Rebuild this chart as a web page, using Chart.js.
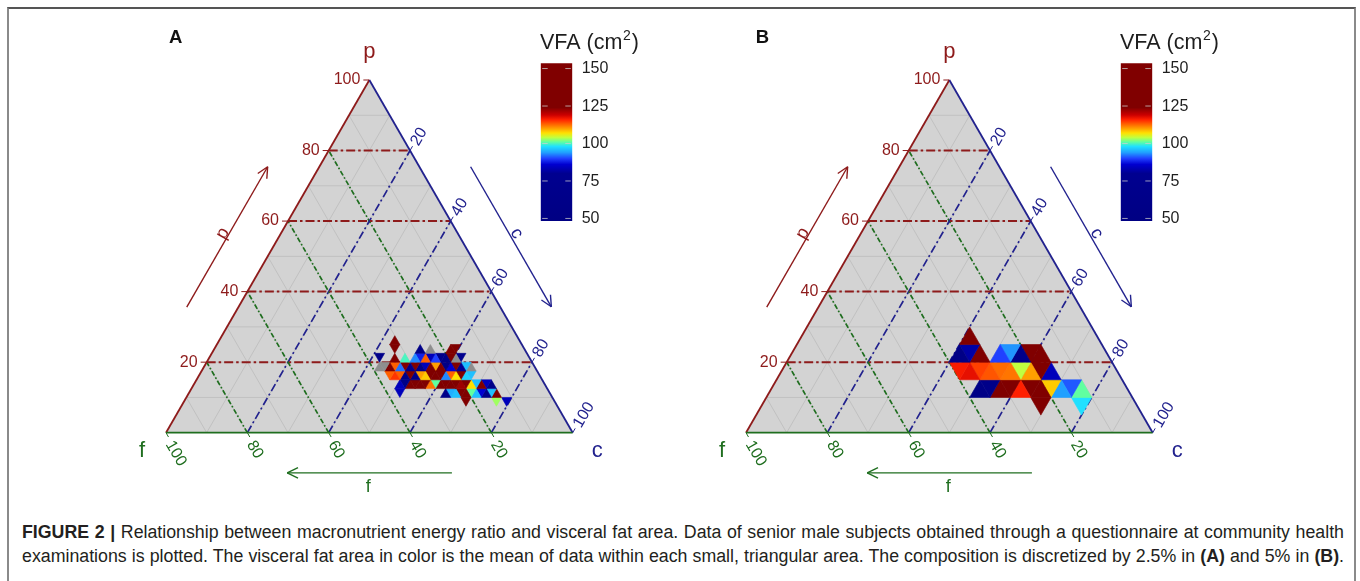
<!DOCTYPE html>
<html>
<head>
<meta charset="utf-8">
<script src="https://cdn.jsdelivr.net/npm/chart.js@4.4.1/dist/chart.umd.min.js"></script>
<style>
html,body{margin:0;padding:0;background:#fff;width:1360px;height:581px;overflow:hidden;position:relative;font-family:"Liberation Sans",Arial,sans-serif;}
canvas{position:absolute;}
#frame{position:absolute;left:7px;top:7px;width:1349px;height:580px;border-left:2px solid #8a8a8a;border-right:2px solid #8a8a8a;border-top:2px solid #555;box-sizing:border-box;}
.cap{position:absolute;left:22px;display:inline-block;white-space:nowrap;color:#231f20;font-size:16px;line-height:18px;}
</style>
</head>
<body>
<div id="frame"></div>
<canvas id="panelA" width="700" height="500" style="left:0px;top:0px"></canvas>
<canvas id="panelB" width="700" height="500" style="left:580px;top:0px"></canvas>
<canvas id="barA" width="130" height="220" style="left:530px;top:20px"></canvas>
<canvas id="barB" width="130" height="220" style="left:1110px;top:20px"></canvas>
<div class="cap" id="cap1" style="top:523px"><b>FIGURE 2 |</b> Relationship between macronutrient energy ratio and visceral fat area. Data of senior male subjects obtained through a questionnaire at community health</div>
<div class="cap" id="cap2" style="top:547px">examinations is plotted. The visceral fat area in color is the mean of data within each small, triangular area. The composition is discretized by 2.5% in <b>(A)</b> and 5% in <b>(B)</b>.</div>
<script>
// ---------------- data ----------------
const axisTicks = [20, 40, 60, 80, 100];      // tick labels on the three ternary axes (%)
const guideLevels = [20, 40, 60, 80];         // dashed guide lines (%)
const minorLevels = [10, 20, 30, 40, 50, 60, 70, 80, 90];
const colorbarTicks = [50, 75, 100, 125, 150];
const colorbarRange = [48.3, 153.5];
const axisNames = ['p', 'f', 'c'];             // protein, fat, carbohydrate

// cells: [protein % at lower edge, carbohydrate % at reference vertex, 1 = upward / 0 = downward, mean VFA (cm2), null = grey]
const stepA = 2.5;
const cellsA = [
  [25, 42.5, 1, 140],
  [22.5, 45, 0, 140], [22.5, 50, 1, 60], [22.5, 52.5, 1, null], [22.5, 57.5, 1, 145], [22.5, 60, 0, 138],
  [20, 42.5, 0, 62], [20, 45, 1, 135], [20, 47.5, 1, 100], [20, 50, 1, 93], [20, 52.5, 0, 88], [20, 52.5, 1, 113],
  [20, 55, 0, 84], [20, 55, 1, 90], [20, 57.5, 0, 60], [20, 57.5, 1, 58], [20, 60, 0, 140], [20, 60, 1, null], [20, 62.5, 0, 75],
  [17.5, 42.5, 1, null], [17.5, 45, 0, null], [17.5, 45, 1, 138], [17.5, 47.5, 0, 113], [17.5, 47.5, 1, 92], [17.5, 50, 0, 140],
  [17.5, 50, 1, 62], [17.5, 52.5, 0, 135], [17.5, 52.5, 1, 60], [17.5, 55, 0, 84], [17.5, 55, 1, 140], [17.5, 57.5, 0, 110],
  [17.5, 57.5, 1, 140], [17.5, 60, 0, 58], [17.5, 60, 1, 86], [17.5, 62.5, 0, 140], [17.5, 62.5, 1, 80], [17.5, 65, 0, 96], [17.5, 65, 1, null],
  [15, 47.5, 0, 113], [15, 47.5, 1, 115], [15, 50, 0, 113], [15, 50, 1, 60], [15, 52.5, 0, 140], [15, 52.5, 1, 62],
  [15, 55, 0, 110], [15, 55, 1, 108], [15, 57.5, 0, 140], [15, 57.5, 1, 140], [15, 60, 0, 140], [15, 60, 1, 93],
  [15, 62.5, 0, 113], [15, 62.5, 1, 107], [15, 65, 0, 140], [15, 65, 1, 97], [15, 67.5, 0, 96],
  [12.5, 50, 1, 84], [12.5, 52.5, 0, 60], [12.5, 52.5, 1, 140], [12.5, 55, 0, 140], [12.5, 55, 1, 140], [12.5, 57.5, 0, 140],
  [12.5, 57.5, 1, 112], [12.5, 60, 0, 101], [12.5, 60, 1, 140], [12.5, 62.5, 0, 140], [12.5, 62.5, 1, 140], [12.5, 65, 0, 140],
  [12.5, 65, 1, 122], [12.5, 67.5, 0, 140], [12.5, 67.5, 1, 107], [12.5, 70, 0, 96], [12.5, 70, 1, 140], [12.5, 72.5, 0, 84], [12.5, 72.5, 1, 60],
  [10, 52.5, 0, 84], [10, 62.5, 1, 60], [10, 65, 0, 95], [10, 65, 1, 96], [10, 67.5, 0, 140], [10, 67.5, 1, 140],
  [10, 70, 0, 101], [10, 70, 1, 96], [10, 72.5, 0, 86], [10, 72.5, 1, 62], [10, 75, 0, 96], [10, 75, 1, 140],
  [7.5, 70, 0, 140], [7.5, 77.5, 0, 103], [7.5, 80, 0, 84]
];

const stepB = 5;
const cellsB = [
  [25, 40, 1, 140],
  [20, 40, 1, 55], [20, 45, 0, 82], [20, 45, 1, 140], [20, 50, 1, 90], [20, 55, 0, 93.5], [20, 55, 1, 62], [20, 60, 0, 140], [20, 60, 1, 140],
  [15, 45, 0, 116.5], [15, 45, 1, 117.5], [15, 50, 0, 114.5], [15, 50, 1, 113.5], [15, 55, 0, 112.5], [15, 55, 1, 112],
  [15, 60, 0, 104], [15, 60, 1, 110], [15, 65, 0, 140], [15, 65, 1, 84],
  [10, 50, 1, 58], [10, 55, 0, 62], [10, 55, 1, 138], [10, 60, 0, 140], [10, 60, 1, 116], [10, 65, 0, 140],
  [10, 65, 1, 140], [10, 70, 0, 108], [10, 70, 1, 94], [10, 75, 0, 91], [10, 75, 1, 101],
  [5, 70, 0, 140], [5, 80, 0, 98]
];

// ---------------- style ----------------
const FONT = '"Liberation Sans", Arial, Helvetica, sans-serif';
const COL = {p: '#8e1b1b', c: '#22228e', f: '#1f6e1f', fill: '#d3d3d3', minor: '#c1c1c1', grey: '#8e8e8e'};
const jetStops = [[40,'#000080'],[80,'#000090'],[86,'#0000d0'],[90,'#2040ff'],[94,'#20a0ff'],[98,'#20e0ff'],
  [101,'#60ffa0'],[104,'#c0ff40'],[107,'#ffe000'],[110,'#ffa000'],[113,'#ff6000'],[116,'#ff2000'],
  [119,'#cc0000'],[124,'#800000'],[160,'#800000']];

function hex(c){return [1,3,5].map(i=>parseInt(c.substr(i,2),16));}
function vfaColor(v){
  if (v <= jetStops[0][0]) return jetStops[0][1];
  for (let k = 1; k < jetStops.length; k++) {
    const [v1, c1] = jetStops[k];
    if (v <= v1) {
      const [v0, c0] = jetStops[k-1];
      const t = (v - v0) / (v1 - v0);
      const a = hex(c0), b = hex(c1);
      return 'rgb(' + a.map((x,i)=>Math.round(x + (b[i]-x)*t)).join(',') + ')';
    }
  }
  return jetStops[jetStops.length-1][1];
}

function cellDatasets(cells, step){
  return cells.map(([p0, c0, up, v]) => {
    const verts = up ? [[c0,p0],[c0+step,p0],[c0,p0+step]] : [[c0,p0],[c0,p0+step],[c0-step,p0+step]];
    const pts = verts.concat([verts[0]]).map(([c,p]) => ({x: c + p/2, y: p}));
    const col = v == null ? COL.grey : vfaColor(v);
    return {data: pts, backgroundColor: col, borderColor: col, borderWidth: 0.6, fill: 'shape', pointRadius: 0, tension: 0};
  });
}

function seg(ctx, a, b, color, w, dash){
  ctx.save(); ctx.strokeStyle = color; ctx.lineWidth = w; ctx.setLineDash(dash || []);
  ctx.beginPath(); ctx.moveTo(a.x, a.y); ctx.lineTo(b.x, b.y); ctx.stroke(); ctx.restore();
}
function arrow(ctx, a, b, color){
  seg(ctx, a, b, color, 1.4);
  const ang = Math.atan2(b.y - a.y, b.x - a.x);
  [-0.45, 0.45].forEach(s => seg(ctx, b, {x: b.x - 12*Math.cos(ang + s), y: b.y - 12*Math.sin(ang + s)}, color, 1.4));
}
function rotText(ctx, txt, x, y, angle, color, align){
  ctx.save(); ctx.translate(x, y); ctx.rotate(angle); ctx.fillStyle = color;
  ctx.textAlign = align || 'left'; ctx.textBaseline = 'middle'; ctx.fillText(txt, 0, 0); ctx.restore();
}

function ternaryPlugin(letter, letterX){
  return {
    id: 'ternary',
    beforeDatasetsDraw(chart){
      const {ctx} = chart, xs = chart.scales.x, ys = chart.scales.y;
      const T = (c, p) => ({x: xs.getPixelForValue(c + p/2), y: ys.getPixelForValue(p)});
      ctx.save();
      const v = [T(0,0), T(100,0), T(0,100)];
      ctx.fillStyle = COL.fill; ctx.beginPath(); ctx.moveTo(v[0].x, v[0].y); ctx.lineTo(v[1].x, v[1].y); ctx.lineTo(v[2].x, v[2].y); ctx.closePath(); ctx.fill();
      minorLevels.forEach(k => {
        seg(ctx, T(0,k), T(100-k,k), COL.minor, 1);
        seg(ctx, T(k,0), T(k,100-k), COL.minor, 1);
        seg(ctx, T(100-k,0), T(0,100-k), COL.minor, 1);
      });
      guideLevels.forEach(k => {
        seg(ctx, T(100-k,0), T(0,100-k), COL.f, 1.7, [5,2.2,1.6,2.2]);
        seg(ctx, T(k,0), T(k,100-k), COL.c, 1.7, [8,3,2,3]);
        seg(ctx, T(0,k), T(100-k,k), COL.p, 2, [9,3,2.5,3]);
      });
      ctx.restore();
    },
    afterDatasetsDraw(chart){
      const {ctx} = chart, xs = chart.scales.x, ys = chart.scales.y;
      const T = (c, p) => ({x: xs.getPixelForValue(c + p/2), y: ys.getPixelForValue(p)});
      ctx.save();
      seg(ctx, T(0,0), T(0,100), COL.p, 1.8);
      seg(ctx, T(0,100), T(100,0), COL.c, 1.8);
      seg(ctx, T(100,0), T(0,0), COL.f, 1.8);
      const up = {x: 0.5, y: -Math.sqrt(3)/2}, dn = {x: 0.5, y: Math.sqrt(3)/2};
      ctx.font = '16px ' + FONT;
      axisTicks.forEach(k => {
        const a = T(0, k);
        seg(ctx, a, {x: a.x - 6, y: a.y}, COL.p, 1);
        ctx.fillStyle = COL.p; ctx.textAlign = 'right'; ctx.textBaseline = 'middle';
        ctx.fillText(String(k), a.x - 9, a.y);
        const b = T(k, 100 - k);
        seg(ctx, b, {x: b.x + 5*up.x, y: b.y + 5*up.y}, COL.c, 1);
        rotText(ctx, String(k), b.x + 7.5*up.x + 0.8, b.y + 7.5*up.y + 0.4, -Math.PI/3, COL.c);
        const d = T(100 - k, 0);
        seg(ctx, d, {x: d.x + 5*dn.x, y: d.y + 5*dn.y}, COL.f, 1);
        rotText(ctx, String(k), d.x + 9.5*dn.x - 1.7, d.y + 9.5*dn.y + 1, Math.PI/3, COL.f);
      });
      // vertex names
      ctx.font = '22px ' + FONT; ctx.textAlign = 'center'; ctx.textBaseline = 'alphabetic';
      const top = T(0,100), bl = T(0,0), br = T(100,0);
      ctx.fillStyle = COL.p; ctx.fillText(axisNames[0], top.x, top.y - 22);
      ctx.fillStyle = COL.f; ctx.fillText(axisNames[1], bl.x - 24, bl.y + 24.5);
      ctx.fillStyle = COL.c; ctx.fillText(axisNames[2], br.x + 24.5, br.y + 24.5);
      // direction arrows
      arrow(ctx, T(-12.7, 35.6), T(-12.7, 75.4), COL.p);
      arrow(ctx, T(112.6 - 75.4, 75.4), T(112.6 - 35.7, 35.7), COL.c);
      arrow(ctx, T(76, -11.4), T(35.5, -11.4), COL.f);
      ctx.font = '18px ' + FONT;
      const lp = T(-14.3, 56.5), lc = T(57.95, 56.5), lf = T(57.4, -15.4);
      rotText(ctx, axisNames[0], lp.x, lp.y, -Math.PI/3, COL.p, 'center');
      rotText(ctx, axisNames[2], lc.x, lc.y, Math.PI/3, COL.c, 'center');
      rotText(ctx, axisNames[1], lf.x, lf.y, 0, COL.f, 'center');
      // panel letter
      ctx.font = 'bold 18.5px ' + FONT; ctx.fillStyle = '#111'; ctx.textAlign = 'center'; ctx.textBaseline = 'alphabetic';
      ctx.fillText(letter, letterX, 43.3);
      ctx.restore();
    }
  };
}

function makePanel(id, cells, step, letter, letterX){
  return new Chart(document.getElementById(id), {
    type: 'line',
    data: {datasets: cellDatasets(cells, step)},
    options: {
      responsive: false, animation: false, events: [], devicePixelRatio: 1,
      layout: {padding: {left: 166, right: 127.3, top: 80, bottom: 67.3}},
      scales: {
        x: {type: 'linear', min: 0, max: 100, display: false},
        y: {type: 'linear', min: 0, max: 100, display: false}
      },
      plugins: {legend: {display: false}, tooltip: {enabled: false}}
    },
    plugins: [ternaryPlugin(letter, letterX)]
  });
}

function barGradient(chart){
  const {ctx, chartArea, scales} = chart;
  if (!chartArea) return '#800000';
  const lo = colorbarRange[0], hi = colorbarRange[1];
  const g = ctx.createLinearGradient(0, scales.y.getPixelForValue(lo), 0, scales.y.getPixelForValue(hi));
  g.addColorStop(0, vfaColor(lo));
  jetStops.forEach(([v, c]) => { const t = (v - lo)/(hi - lo); if (t > 0 && t < 1) g.addColorStop(t, c); });
  g.addColorStop(1, vfaColor(hi));
  return g;
}

const colorbarPlugin = {
  id: 'colorbarText',
  afterDatasetsDraw(chart){
    const {ctx} = chart, y = chart.scales.y, {left, right, top} = chart.chartArea;
    ctx.save();
    colorbarTicks.forEach(v => {
      const py = y.getPixelForValue(v);
      seg(ctx, {x: left + 1.5, y: py}, {x: left + 7, y: py}, 'rgba(205,205,205,0.75)', 1);
      seg(ctx, {x: right - 7, y: py}, {x: right - 1.5, y: py}, 'rgba(205,205,205,0.75)', 1);
      ctx.font = '16px ' + FONT; ctx.fillStyle = '#1e1e1e'; ctx.textAlign = 'left'; ctx.textBaseline = 'middle';
      ctx.fillText(String(v), right + 9.4, py + 0.5);
    });
    ctx.fillStyle = '#1e1e1e'; ctx.textBaseline = 'alphabetic'; ctx.textAlign = 'left';
    ctx.font = '21.5px ' + FONT;
    const base = top - 14, x0 = left - 0.7;
    const t1 = 'VFA (cm';
    ctx.fillText(t1, x0, base);
    const w1 = ctx.measureText(t1).width;
    ctx.font = '14px ' + FONT; ctx.fillText('2', x0 + w1 + 0.5, base - 9);
    const w2 = ctx.measureText('2').width;
    ctx.font = '21.5px ' + FONT; ctx.fillText(')', x0 + w1 + w2 + 1.5, base);
    ctx.restore();
  }
};

function makeColorbar(id){
  return new Chart(document.getElementById(id), {
    type: 'bar',
    data: {labels: ['VFA'], datasets: [{data: [colorbarRange], backgroundColor: ctx => barGradient(ctx.chart), borderWidth: 0, barPercentage: 1, categoryPercentage: 1}]},
    options: {
      responsive: false, animation: false, events: [], devicePixelRatio: 1,
      layout: {padding: {left: 10.7, right: 87.7, top: 43.3, bottom: 19}},
      scales: {x: {display: false}, y: {display: false, min: colorbarRange[0], max: colorbarRange[1]}},
      plugins: {legend: {display: false}, tooltip: {enabled: false}}
    },
    plugins: [colorbarPlugin]
  });
}

makePanel('panelA', cellsA, stepA, 'A', 175.8);
makePanel('panelB', cellsB, stepB, 'B', 182.5);
makeColorbar('barA');
makeColorbar('barB');

// caption: fit and justify the two lines to the same width
(function(){
  const W = 1322;
  const lines = [document.getElementById('cap1'), document.getElementById('cap2')];
  const base = 16;
  const widths = lines.map(l => l.getBoundingClientRect().width);
  const size = base * W / Math.max(...widths) * 0.998;
  lines.forEach(l => {
    l.style.fontSize = size + 'px';
    const w = l.getBoundingClientRect().width;
    const spaces = (l.textContent.match(/ /g) || []).length;
    l.style.wordSpacing = ((W - w) / spaces) + 'px';
  });
})();
</script>
</body>
</html>
